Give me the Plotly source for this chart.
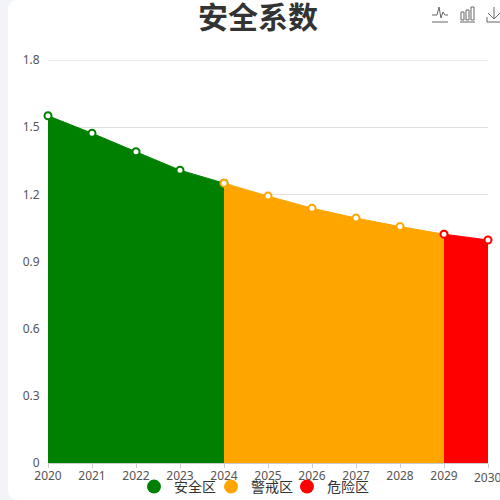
import plotly.graph_objects as go

years = [2020, 2021, 2022, 2023, 2024, 2025, 2026, 2027, 2028, 2029, 2030]
safety = [1.551, 1.473, 1.39, 1.308, 1.25, 1.192, 1.138, 1.094, 1.056, 1.022, 0.996]
zone_names = ["安全区", "警戒区", "危险区"]
zone_colors = ["green", "orange", "red"]
zone_slices = [(0, 5), (4, 10), (9, 11)]
y_ticks = [0, 0.3, 0.6, 0.9, 1.2, 1.5, 1.8]

FONT = "'Noto Sans', 'Noto Sans CJK SC', sans-serif"
L, R, T, B = 48, 12, 60, 37
PW, PH = 500 - L - R, 500 - T - B


def px(x):
    return (x - L) / PW


def py(y):
    return 1 - (y - T) / PH


def path(cmds):
    out = []
    for c in cmds:
        if len(c) == 1:
            out.append(c[0])
        else:
            out.append(f"{c[0]} {px(c[1]):.5f},{py(c[2]):.5f}")
    return " ".join(out)


def icon(cmds):
    return dict(type="path", xref="paper", yref="paper", path=path(cmds),
                line=dict(color="#666", width=1), fillcolor="rgba(0,0,0,0)")


def legend_at(x):
    return dict(x=px(x), xanchor="left", y=py(487), yanchor="middle",
                bgcolor="rgba(0,0,0,0)", font=dict(size=14, color="#333", family=FONT),
                itemsizing="trace", itemwidth=30)


fig = go.Figure()

legend_ids = ["legend", "legend2", "legend3"]
for name, color, (a, b), leg in zip(zone_names, zone_colors, zone_slices, legend_ids):
    fig.add_trace(go.Scatter(
        x=years[a:b], y=safety[a:b], mode="lines+markers", fill="tozeroy",
        fillcolor=color, line=dict(color=color, width=1),
        marker=dict(size=7, color="white", line=dict(color=color, width=2)),
        cliponaxis=False, showlegend=False, name=name,
    ))
    # legend only: plain filled circle
    fig.add_trace(go.Scatter(
        x=[None], y=[None], mode="markers", name=name, legend=leg,
        marker=dict(size=14, color=color),
    ))

shapes = [dict(type="path", xref="paper", yref="paper", layer="below",
               path=f"M {px(18):.5f},{py(0):.5f} L {px(500):.5f},{py(0):.5f} "
                    f"L {px(500):.5f},{py(500):.5f} L {px(18):.5f},{py(500):.5f} "
                    f"Q {px(8):.5f},{py(500):.5f} {px(8):.5f},{py(490):.5f} "
                    f"L {px(8):.5f},{py(10):.5f} "
                    f"Q {px(8):.5f},{py(0):.5f} {px(18):.5f},{py(0):.5f} Z",
               line=dict(width=0), fillcolor="white")]

# plotly drops the gridline at the top of the range
shapes.append(dict(type="line", xref="paper", yref="y", x0=0, x1=1, y0=y_ticks[-1], y1=y_ticks[-1],
                   line=dict(color="#d4d4d4", width=1)))

# toolbox icons
shapes.append(icon([("M", 432, 22), ("L", 448, 22)]))
shapes.append(icon([("M", 432, 15), ("L", 437, 15), ("L", 439, 7), ("L", 441, 18),
                    ("L", 443, 12), ("L", 445, 15), ("L", 448, 15)]))
shapes.append(icon([("M", 460, 22), ("L", 475, 22)]))
shapes.append(icon([("M", 461, 20), ("L", 461, 12), ("L", 464, 12), ("L", 464, 20), ("Z",)]))
shapes.append(icon([("M", 466, 20), ("L", 466, 10), ("L", 469, 10), ("L", 469, 20), ("Z",)]))
shapes.append(icon([("M", 471, 20), ("L", 471, 7), ("L", 474, 7), ("L", 474, 20), ("Z",)]))
shapes.append(icon([("M", 494, 7), ("L", 494, 19)]))
shapes.append(icon([("M", 488, 13), ("L", 494, 19), ("L", 500, 13)]))
shapes.append(icon([("M", 487, 17), ("L", 487, 22), ("L", 500, 22)]))

fig.update_layout(
    width=500, height=500,
    margin=dict(l=L, r=R, t=T, b=B, pad=0, autoexpand=False),
    paper_bgcolor="#f3f4fa", plot_bgcolor="white",
    font=dict(family=FONT, size=12, color="#555"),
    title=dict(text="<b>安全系数</b>", x=258 / 500, xanchor="center", y=1 - 17 / 500, yanchor="middle",
               font=dict(family=FONT, size=30, color="#333")),
    xaxis=dict(range=[2020, 2030], tickvals=years, ticktext=[str(v) for v in years],
               showgrid=False, zeroline=False, showline=True, linecolor="#ccc", linewidth=1,
               ticks="outside", ticklen=4, tickcolor="#ccc", tickangle=0, ticklabelstandoff=-2),
    yaxis=dict(range=[0, 1.8], tickvals=y_ticks, ticktext=["0", "0.3", "0.6", "0.9", "1.2", "1.5", "1.8"],
               showgrid=True, gridcolor="#e0e0e0", gridwidth=1, zeroline=False,
               ticks="outside", ticklen=5, tickcolor="rgba(0,0,0,0)"),
    legend=legend_at(134),
    legend2=legend_at(211),
    legend3=legend_at(287),
    shapes=shapes,
    # last tick label runs off the page, plotly hides it
    annotations=[dict(x=years[-1], xref="x", y=py(477), yref="paper", text=str(years[-1]),
                      showarrow=False, xanchor="center", yanchor="middle",
                      font=dict(size=12, color="#555", family=FONT))],
)

fig.write_html("out.html", config=dict(displayModeBar=False),
               post_script="document.body.style.margin='0';")
